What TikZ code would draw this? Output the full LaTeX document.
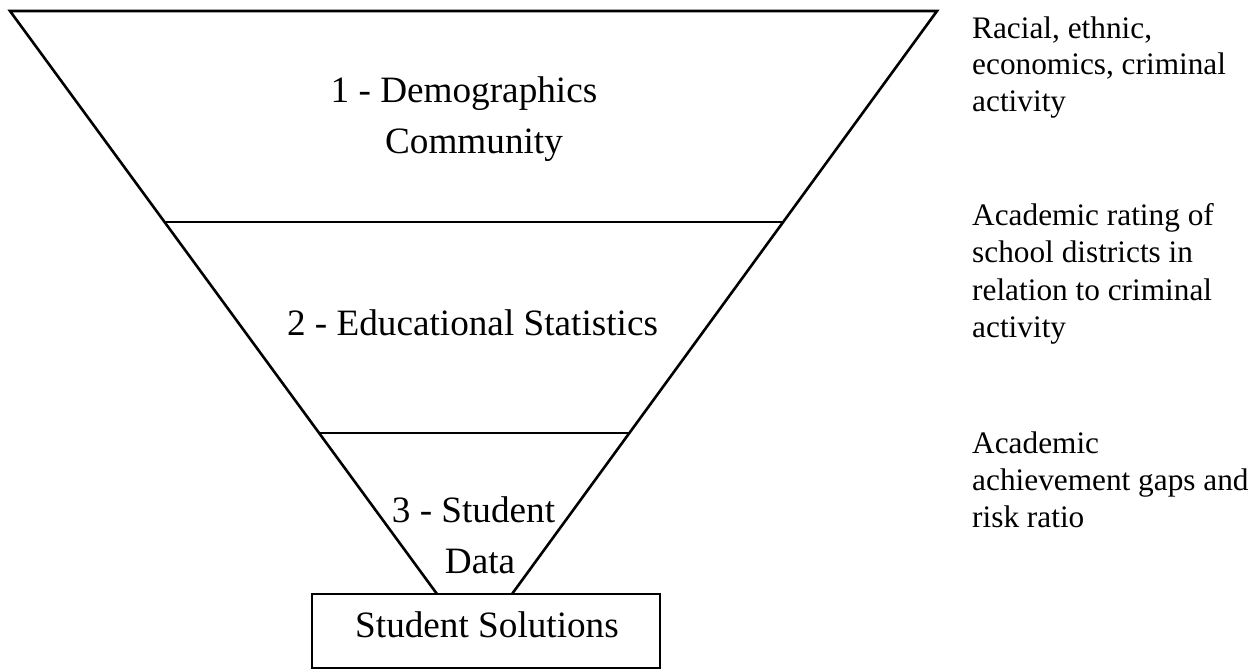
\documentclass[tikz,border=0pt]{standalone}
\usepackage{fontspec}
\setmainfont{Liberation Serif}
\usetikzlibrary{calc}
\begin{document}
\begin{tikzpicture}[x=1pt,y=-1pt,
  edge/.style={line width=2.6pt, line cap=butt},
  bigtxt/.style={font=\fontsize{37.2}{44}\selectfont, inner sep=0pt, anchor=base},
  sidetxt/.style={font=\fontsize{31.3}{37}\selectfont, inner sep=0pt, anchor=base west}]
\useasboundingbox (0,0) rectangle (1260,670);
\coordinate (tl) at (10,11);
\coordinate (tr) at (937,11);
\coordinate (bl) at (437,594);
\coordinate (br) at (512,594);
\coordinate (l1) at ($(tl)!0.3619!(bl)$);
\coordinate (r1) at ($(tr)!0.3619!(br)$);
\coordinate (l2) at ($(tl)!0.7238!(bl)$);
\coordinate (r2) at ($(tr)!0.7238!(br)$);
% funnel
\draw[edge, line join=miter] (bl) -- (tl) -- (tr) -- (br);
\draw[edge] (l1) -- (r1);
\draw[edge] (l2) -- (r2);
% box
\node[draw, line width=2.6pt, minimum width=348pt, minimum height=74pt, inner sep=0pt] (box) at (486,631) {};
\node[bigtxt] (soltxt) at (487,637) {Student Solutions};
% funnel texts
\node[bigtxt] (d1) at (464,102) {1 - Demographics};
\node[bigtxt] (d2) at (474,153) {Community};
\node[bigtxt] (e1) at (472.5,335) {2 - Educational Statistics};
\node[bigtxt] (s1) at (473.5,522) {3 - Student};
\node[bigtxt] (s2) at (480,573) {Data};
% side texts
\node[sidetxt] (a1) at (972,38) {Racial, ethnic,};
\node[sidetxt] (a2) at (972,74.5) {economics, criminal};
\node[sidetxt] (a3) at (972,111) {activity};
\node[sidetxt] (b1) at (972,225) {Academic rating of};
\node[sidetxt] (b2) at (972,262) {school districts in};
\node[sidetxt] (b3) at (972,300) {relation to criminal};
\node[sidetxt] (b4) at (972,337) {activity};
\node[sidetxt] (c1) at (972,453) {Academic};
\node[sidetxt] (c2) at (972,490) {achievement gaps and};
\node[sidetxt] (c3) at (972,527) {risk ratio};
\end{tikzpicture}
\end{document}
